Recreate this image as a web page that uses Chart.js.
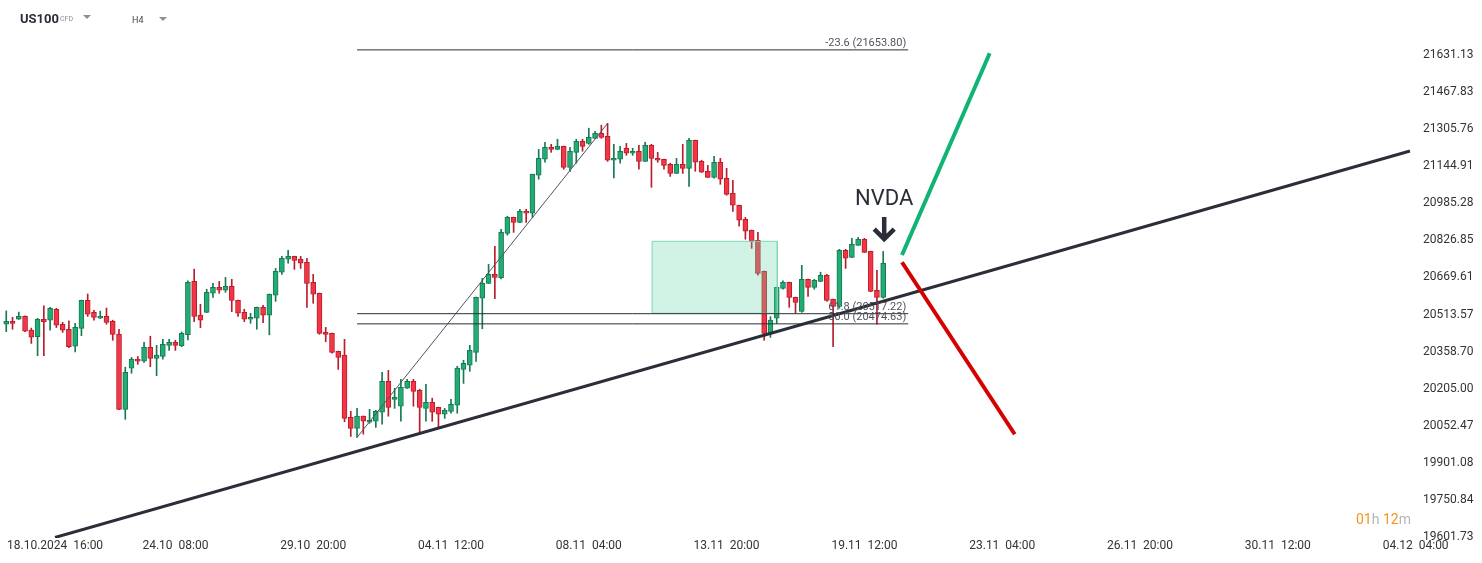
<!DOCTYPE html>
<html>
<head>
<meta charset="utf-8">
<title>US100 H4</title>
<script src="https://cdn.jsdelivr.net/npm/chart.js@4.4.1/dist/chart.umd.min.js"></script>
<style>
  body { margin: 0; background: #fff; }
  #wrap { position: relative; width: 1482px; height: 563px; overflow: hidden; font-family: Roboto, sans-serif; }
  #wrap canvas { position: absolute; left: 0; top: 0; }
  .lbl { position: absolute; line-height: 1; white-space: pre; }
  .tri { position: absolute; width: 0; height: 0; border-left: 4px solid transparent; border-right: 4px solid transparent; border-top: 4px solid #8c8f99; }
</style>
</head>
<body>
<div id="wrap">
  <canvas id="chart" width="1482" height="563"></canvas>
  <div class="lbl" style="left:20px;top:12px;font-size:13px;font-weight:700;color:#2a2e39">US100</div>
  <div class="lbl" style="left:60px;top:15.5px;font-size:7px;color:#8c8f99">CFD</div>
  <div class="tri" style="left:83px;top:15px"></div>
  <div class="lbl" style="left:132px;top:16px;font-size:9px;color:#444">H4</div>
  <div class="tri" style="left:159px;top:16.5px"></div>
  <div class="lbl" style="left:1356px;top:511.5px;font-size:14px"><span style="color:#f7931a">01</span><span style="color:#b2b5be">h</span> <span style="color:#f7931a">12</span><span style="color:#b2b5be">m</span></div>
</div>
<script>
// H4 candles, index 0 = first visible bar
const opens = [20473,20485,20494,20506,20449,20421,20494,20490,20536,20473,
  20452,20381,20456,20573,20523,20498,20506,20485,20431,20120,
  20290,20327,20319,20377,20331,20339,20385,20398,20383,20429,
  20653,20511,20523,20603,20628,20616,20632,20573,20523,20494,
  20498,20544,20511,20595,20692,20747,20759,20747,20734,20649,
  20603,20439,20435,20360,20344,20087,20042,20092,20067,20071,
  20108,20236,20161,20133,20207,20236,20198,20124,20149,20128,
  20100,20112,20137,20285,20302,20356,20582,20645,20683,20669,
  20857,20925,20904,20951,20943,21106,21175,21227,21218,21231,
  21140,21205,21253,21244,21266,21288,21275,21171,21175,21223,
  21201,21210,21166,21236,21179,21175,21153,21114,21153,21136,
  21257,21166,21123,21097,21162,21093,21028,20977,20917,20870,
  20827,20696,20435,20498,20624,20649,20586,20527,20662,20628,
  20653,20679,20578,20548,20785,20755,20806,20831,20780,20615,
  20586];
const highs = [20529,20502,20524,20508,20457,20498,20550,20544,20540,20481,
  20487,20477,20574,20600,20531,20528,20541,20490,20452,20294,
  20335,20339,20398,20423,20385,20410,20410,20406,20441,20655,
  20705,20557,20620,20645,20653,20670,20662,20574,20536,20519,
  20545,20552,20600,20708,20759,20785,20760,20759,20751,20683,
  20604,20460,20436,20361,20410,20112,20124,20093,20120,20116,
  20273,20281,20207,20244,20244,20244,20203,20223,20166,20129,
  20124,20161,20298,20323,20385,20587,20666,20725,20802,20874,
  20930,20926,20960,20960,21111,21218,21249,21240,21262,21232,
  21227,21262,21262,21310,21296,21323,21331,21240,21231,21244,
  21223,21236,21249,21240,21205,21176,21158,21179,21240,21266,
  21258,21171,21149,21188,21179,21136,21084,20978,20925,20871,
  20861,20697,20505,20629,20655,20650,20587,20721,20663,20662,
  20692,20683,20579,20789,20789,20836,20840,20836,20781,20700,
  20780];
const lows = [20442,20452,20493,20442,20393,20342,20342,20448,20459,20439,
  20375,20358,20425,20506,20490,20497,20473,20406,20119,20079,
  20269,20306,20314,20296,20259,20327,20364,20364,20379,20408,
  20484,20459,20522,20586,20603,20607,20526,20506,20484,20477,
  20452,20480,20429,20569,20683,20730,20704,20708,20544,20561,
  20431,20400,20352,20285,20069,20009,20005,20018,20063,20046,
  20059,20092,20124,20071,20206,20133,20026,20071,20071,20046,
  20083,20104,20104,20227,20277,20318,20454,20644,20580,20664,
  20849,20861,20903,20904,20925,21089,21162,21205,21217,21132,
  21123,21158,21210,21240,21265,21266,21166,21095,21158,21192,
  21192,21132,21165,21054,21162,21132,21101,21113,21114,21058,
  21123,21118,21096,21093,21067,21020,20951,20887,20832,20793,
  20679,20406,20418,20477,20620,20544,20519,20523,20590,20620,
  20652,20569,20379,20540,20708,20754,20805,20775,20610,20473,
  20582];
const closes = [20485,20477,20506,20444,20419,20494,20484,20540,20469,20448,
  20379,20460,20573,20515,20502,20506,20481,20431,20120,20273,
  20327,20319,20377,20331,20344,20389,20398,20385,20435,20649,
  20506,20490,20607,20628,20616,20632,20573,20519,20494,20502,
  20544,20511,20599,20696,20751,20759,20742,20730,20645,20599,
  20435,20431,20356,20335,20083,20042,20092,20071,20075,20112,
  20236,20128,20170,20211,20236,20194,20128,20149,20108,20100,
  20116,20141,20290,20310,20364,20586,20645,20683,20670,20861,
  20925,20904,20951,20943,21110,21179,21227,21218,21231,21140,
  21210,21253,21231,21270,21288,21270,21171,21179,21210,21201,
  21210,21166,21236,21179,21171,21149,21114,21153,21136,21257,
  21162,21119,21097,21162,21089,21024,20977,20913,20866,20823,
  20687,20435,20490,20628,20649,20586,20565,20662,20628,20658,
  20679,20573,20548,20785,20751,20810,20831,20776,20611,20586,
  20729];

// axis labels
const xTickIdx = [5, 27, 49, 71, 93, 115, 137, 159, 181, 203, 225];
const xTickLabels = ['18.10.2024  16:00', '24.10  08:00', '29.10  20:00', '04.11  12:00', '08.11  04:00',
  '13.11  20:00', '19.11  12:00', '23.11  04:00', '26.11  20:00', '30.11  12:00', '04.12  04:00'];
const yTicks = [21631.13, 21467.83, 21305.76, 21144.91, 20985.28, 20826.85, 20669.61,
  20513.57, 20358.70, 20205.00, 20052.47, 19901.08, 19750.84, 19601.73];

// drawings
const fibLevels = [-23.6, 61.8, 50.0];
const fibPrices = [21653.80, 20517.22, 20474.63];
const fibFrom = [56, 20005];   // [bar, price]
const fibTo = [96, 21331];
const fibEndBar = 144;
const trendLine = [[7.78, 19600], [224.1, 21211]];
const zoneBars = [103.1, 123.1];
const zonePrices = [20519, 20823];
const bullPath = [[143, 20765], [157, 21639]];
const bearPath = [[143, 20734], [161, 20018]];
const eventLabel = 'NVDA';
const eventBar = 140;
const eventTextPrice = 20978;
const eventArrowPrice = 20824;

const UP = '#22ab74', UP_EDGE = '#167a52';
const DOWN = '#f23645', DOWN_EDGE = '#b81d2c';
const INK = '#2a2e39';

const isUp = i => closes[i] >= opens[i];
const pts = arr => arr.map(p => ({ x: p[0], y: p[1] }));

function segment(points, color, width, order) {
    return {
        type: 'line', data: pts(points), borderColor: color, borderWidth: width,
        pointRadius: 0, pointHoverRadius: 0, fill: false, tension: 0, order
    };
}

const wickData = opens.map((o, i) => ({
    x: i, y: [Math.min(lows[i], o, closes[i]), Math.max(highs[i], o, closes[i])]
}));
const bodyData = opens.map((o, i) => ({ x: i, y: [Math.min(o, closes[i]), Math.max(o, closes[i])] }));

const datasets = [
    {
        type: 'bar', data: wickData, grouped: false, barThickness: 1, maxBarThickness: 1,
        backgroundColor: ctx => isUp(ctx.dataIndex) ? UP_EDGE : DOWN_EDGE, borderWidth: 0, order: 10
    },
    {
        type: 'bar', data: bodyData, grouped: false, barThickness: 5, maxBarThickness: 5, minBarLength: 2,
        backgroundColor: ctx => isUp(ctx.dataIndex) ? UP : DOWN,
        borderColor: ctx => isUp(ctx.dataIndex) ? UP_EDGE : DOWN_EDGE,
        borderWidth: 1, borderSkipped: false, order: 9
    },
    {
        type: 'line', data: pts([[zoneBars[0], zonePrices[1]], [zoneBars[1], zonePrices[1]]]),
        borderWidth: 0, pointRadius: 0, fill: { value: zonePrices[0] },
        backgroundColor: 'rgba(100, 215, 170, 0.3)', order: 8
    },
    segment([[zoneBars[0], zonePrices[1]], [zoneBars[1], zonePrices[1]], [zoneBars[1], zonePrices[0]],
        [zoneBars[0], zonePrices[0]], [zoneBars[0], zonePrices[1]]], '#7fd6b4', 1, 7),
    segment([fibFrom, fibTo], '#50535e', 1, 6),
    ...fibPrices.map(p => segment([[fibFrom[0], p], [fibEndBar, p]], INK, 1, 6)),
    segment(trendLine, INK, 3, 5),
    segment(bullPath, '#0fb373', 4, 4),
    segment(bearPath, '#d50000', 4, 4)
];

const overlay = {
    id: 'overlay',
    afterDatasetsDraw(chart) {
        const { ctx, scales: { x, y } } = chart;
        ctx.save();
        ctx.font = '11px Roboto';
        ctx.fillStyle = '#50535e';
        ctx.textAlign = 'right';
        ctx.textBaseline = 'alphabetic';
        fibLevels.forEach((lvl, i) => {
            ctx.fillText(`${lvl.toFixed(1)} (${fibPrices[i].toFixed(2)})`,
                x.getPixelForValue(fibEndBar) - 2, y.getPixelForValue(fibPrices[i]) - 4);
        });

        const ex = x.getPixelForValue(eventBar) + 1;
        ctx.font = '22px Roboto';
        ctx.fillStyle = INK;
        ctx.textAlign = 'center';
        ctx.fillText(eventLabel, ex, y.getPixelForValue(eventTextPrice));

        const tip = y.getPixelForValue(eventArrowPrice);
        ctx.strokeStyle = INK;
        ctx.lineWidth = 4.5;
        ctx.beginPath();
        ctx.moveTo(ex, tip - 24);
        ctx.lineTo(ex, tip - 3);
        ctx.moveTo(ex - 10, tip - 12);
        ctx.lineTo(ex, tip - 2);
        ctx.lineTo(ex + 10, tip - 12);
        ctx.stroke();
        ctx.restore();
    },
    afterDraw(chart) {
        const { ctx, scales: { x } } = chart;
        ctx.save();
        ctx.font = '12px Roboto';
        ctx.fillStyle = '#333';
        ctx.textAlign = 'center';
        ctx.textBaseline = 'middle';
        xTickIdx.forEach((idx, i) => {
            const w = ctx.measureText(xTickLabels[i]).width;
            let px = x.getPixelForValue(idx);
            px = Math.min(Math.max(px, 7 + w / 2), chart.width - 7 - w / 2);
            ctx.fillText(xTickLabels[i], px, 546);
        });
        ctx.restore();
    }
};

new Chart(document.getElementById('chart'), {
    type: 'bar',
    data: { datasets },
    options: {
        responsive: false, animation: false, events: [],
        layout: { padding: { top: 25, bottom: 25, left: 0, right: 0 } },
        plugins: { legend: { display: false }, tooltip: { enabled: false } },
        scales: {
            x: { type: 'linear', min: -1, max: 224.9, display: false, offset: false, bounds: 'data' },
            y: {
                type: 'logarithmic', position: 'right', min: 19597.9, max: 21764.2, bounds: 'data',
                grid: { display: false, drawTicks: false }, border: { display: false },
                afterBuildTicks: s => { s.ticks = yTicks.map(v => ({ value: v })); },
                afterFit: s => { s.width = 67; },
                ticks: {
                    autoSkip: false, padding: 8, color: '#333',
                    font: { family: 'Roboto', size: 12 },
                    callback: v => Number(v).toFixed(2)
                }
            }
        }
    },
    plugins: [overlay]
});
</script>
</body>
</html>
